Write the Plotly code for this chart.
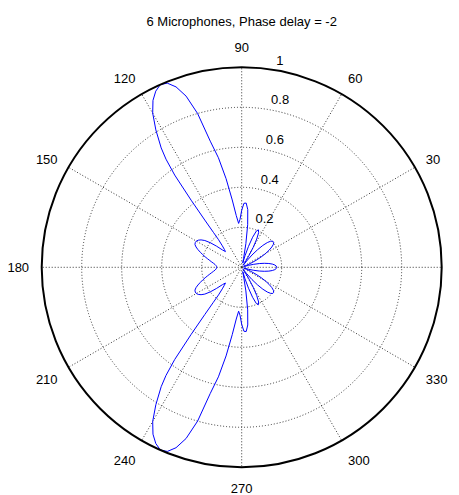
import plotly.graph_objects as go

title_text = "6 Microphones, Phase delay = -2"
angle_ticks = [0, 30, 60, 90, 120, 150, 180, 210, 240, 270, 300, 330]
# the "0" label falls outside the picture's right edge in the reference
angle_labels = ["", "30", "60", "90", "120", "150", "180", "210", "240", "270", "300", "330"]
radial_ticks = [0.2, 0.4, 0.6, 0.8, 1.0]
radial_labels = ["0.2", "0.4", "0.6", "0.8", "1"]

theta_upper = [0, 2, 4, 6, 8, 10, 12, 14, 16, 18, 20, 22, 24, 26, 28, 30, 32, 34, 36, 38,
               40, 42, 44, 46, 48, 50, 52, 54, 56, 58, 60, 62, 64, 66, 68, 70, 72, 74, 76, 78,
               80, 82, 84, 86, 88, 90, 92, 94, 96, 98, 100, 102, 104, 106, 108, 110, 112, 114,
               116, 118, 120, 122, 124, 125, 126, 127, 128, 129, 130, 132, 134, 136, 138, 140,
               142, 144, 146, 148, 150, 152, 154, 156, 158, 160, 162, 164, 166, 168, 170, 172,
               174, 176, 178, 180]
gain_upper = [0.175, 0.173, 0.166, 0.154, 0.137, 0.115, 0.09, 0.062, 0.035, 0.014, 0.01, 0.025,
              0.05, 0.08, 0.11, 0.138, 0.162, 0.182, 0.196, 0.203,
              0.203, 0.195, 0.178, 0.152, 0.118, 0.08, 0.04, 0.012, 0.025, 0.065, 0.115, 0.16,
              0.193, 0.205, 0.195, 0.16, 0.11, 0.06, 0.022, 0.045,
              0.12, 0.215, 0.29, 0.322, 0.32, 0.285, 0.24, 0.22, 0.26, 0.34, 0.45, 0.56, 0.65,
              0.8, 0.9, 0.96, 0.993, 1.0,
              0.98, 0.945, 0.89, 0.81, 0.72, 0.66, 0.57, 0.42, 0.3, 0.225, 0.18, 0.145, 0.125,
              0.113, 0.13, 0.165,
              0.2, 0.228, 0.245, 0.256, 0.262, 0.263, 0.26, 0.25, 0.236, 0.22, 0.205, 0.19, 0.176,
              0.163, 0.152, 0.142,
              0.134, 0.129, 0.126, 0.125]

theta_lower = [182, 184, 186, 188, 190, 192, 194, 196, 198, 200, 202, 204, 206, 208, 210, 212,
               214, 216, 218, 220, 222, 224, 226, 228, 230, 231, 232, 233, 234, 235, 236, 238,
               240, 242, 244, 246, 248, 250, 252, 254, 256, 258, 260, 262, 264, 266, 268, 270,
               272, 274, 276, 278, 280, 282, 284, 286, 288, 290, 292, 294, 296, 298, 300, 302,
               304, 306, 308, 310, 312, 314, 316, 318, 320, 322, 324, 326, 328, 330, 332, 334,
               336, 338, 340, 342, 344, 346, 348, 350, 352, 354, 356, 358, 360]
gain_lower = [0.126, 0.129, 0.134, 0.142, 0.152, 0.163, 0.176, 0.19, 0.205, 0.22, 0.236, 0.25,
              0.26, 0.263, 0.262, 0.256,
              0.245, 0.228, 0.2, 0.165, 0.13, 0.113, 0.125, 0.145, 0.18, 0.225, 0.3, 0.42, 0.57,
              0.66, 0.72, 0.81,
              0.89, 0.945, 0.98, 1.0, 0.993, 0.96, 0.9, 0.8, 0.65, 0.56, 0.45, 0.34, 0.26, 0.22,
              0.24, 0.285,
              0.32, 0.322, 0.29, 0.215, 0.12, 0.045, 0.022, 0.06, 0.11, 0.16, 0.195, 0.205, 0.193,
              0.16, 0.115, 0.065,
              0.025, 0.012, 0.04, 0.08, 0.118, 0.152, 0.178, 0.195, 0.203, 0.203, 0.196, 0.182,
              0.162, 0.138, 0.11, 0.08,
              0.05, 0.025, 0.01, 0.014, 0.035, 0.062, 0.09, 0.115, 0.137, 0.154, 0.166, 0.173,
              0.175]

# page body has an 8px default margin: work in figure coordinates
OFF = 8
W, H = 459 - OFF, 495 - OFF
cx, cy, R = 241.7 - OFF, 267.3 - OFF, 200.0
label_shift = 0.06  # radial labels sit a little outside their grid circles
R2 = R * (1 + label_shift)

fig = go.Figure()
fig.add_trace(go.Scatterpolar(
    r=gain_upper + gain_lower,
    theta=theta_upper + theta_lower,
    mode="lines",
    line=dict(color="#0000ff", width=1),
    showlegend=False,
    hoverinfo="skip",
))
# carrier for the overlaid radial-label axis (invisible)
fig.add_trace(go.Scatterpolar(
    r=radial_ticks, theta=[80] * len(radial_ticks), mode="markers",
    marker=dict(opacity=0, size=1), subplot="polar2",
    showlegend=False, hoverinfo="skip",
))

font_family = "Liberation Sans, Arial, sans-serif"
grid_dash = "1px,2px"
dom = dict(x=[(cx - R) / W, (cx + R) / W], y=[(H - cy - R) / H, (H - cy + R) / H])
dom2 = dict(x=[(cx - R2) / W, (cx + R2) / W], y=[(H - cy - R2) / H, (H - cy + R2) / H])
fig.update_layout(
    width=W, height=H,
    paper_bgcolor="white",
    plot_bgcolor="white",
    margin=dict(l=0, r=0, t=0, b=0),
    title=dict(text=title_text, x=cx / W, xanchor="center", y=1 - (21 - OFF) / H, yanchor="middle",
               font=dict(family=font_family, size=13, color="black")),
    font=dict(family=font_family, size=13, color="black"),
    polar=dict(
        domain=dom,
        bgcolor="white",
        radialaxis=dict(
            range=[0, 1],
            tickvals=radial_ticks,
            showticklabels=False,
            showline=False,
            ticks="",
            gridcolor="#333333",
            griddash=grid_dash,
            gridwidth=1,
        ),
        angularaxis=dict(
            rotation=0,
            direction="counterclockwise",
            tickvals=angle_ticks,
            ticktext=angle_labels,
            showline=True,
            linecolor="black",
            linewidth=2,
            ticks="outside",
            ticklen=9,
            tickcolor="rgba(0,0,0,0)",
            gridcolor="#333333",
            griddash=grid_dash,
            gridwidth=1,
            tickfont=dict(family=font_family, size=13, color="black"),
        ),
    ),
    polar2=dict(
        domain=dom2,
        bgcolor="rgba(0,0,0,0)",
        radialaxis=dict(
            range=[-label_shift, 1.0],
            tickvals=radial_ticks,
            ticktext=radial_labels,
            angle=82.5,
            tickangle=82.5,
            side="clockwise",
            showline=False,
            showgrid=False,
            ticks="",
            tickfont=dict(family=font_family, size=13, color="black"),
        ),
        angularaxis=dict(visible=False, showgrid=False, showline=False),
    ),
)

fig.write_html("out.html")
